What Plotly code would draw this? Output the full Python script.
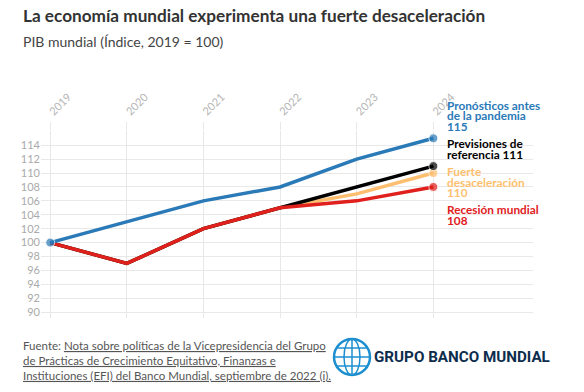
import plotly.graph_objects as go

years = [2019, 2020, 2021, 2022, 2023, 2024]
pre_pandemia = [100, 103, 106, 108, 112, 115]
referencia = [100, 97, 102, 105, 108, 111]
fuerte = [100, 97, 102, 105, 107, 110]
recesion = [100, 97, 102, 105, 106, 108]

y_ticks = [90, 92, 94, 96, 98, 100, 102, 104, 106, 108, 110, 112, 114, 116]
y_labels = [str(v) for v in y_ticks[:-1]] + [""]

BLUE = "#2a7ab8"
BLACK = "#000000"
ORANGE = "#fdbf6f"
RED = "#e0201c"
GRID = "#e8e8e8"
FONT = "Lato"

L, R, T, B = 41, 51, 131, 74
W, H = 584, 392

def px_x(p):
    return (p - L) / (W - L - R)

def px_y(p):
    return (H - B - p) / (H - T - B)

fig = go.Figure()

series = [
    (fuerte, ORANGE, "Fuerte desaceleración"),
    (referencia, BLACK, "Previsiones de referencia"),
    (recesion, RED, "Recesión mundial"),
    (pre_pandemia, BLUE, "Pronósticos antes de la pandemia"),
]
for vals, col, name in series:
    sizes = [0] * (len(years) - 1) + [9]
    if col == BLUE:
        sizes[0] = 9
    fig.add_trace(go.Scatter(
        x=years, y=vals, mode="lines+markers", name=name,
        line=dict(color=col, width=3.5),
        marker=dict(color=col, size=sizes),
        hoverinfo="x+y",
    ))

# End labels, one annotation per line (pixel y centres)
label_lines = [
    ("Pronósticos antes", BLUE, 105),
    ("de la pandemia", BLUE, 116),
    ("115", BLUE, 126.5),
    ("Previsiones de", BLACK, 143),
    ("referencia 111", BLACK, 154),
    ("Fuerte", ORANGE, 171),
    ("desaceleración", ORANGE, 182),
    ("110", ORANGE, 192.5),
    ("Recesión mundial", RED, 209),
    ("108", RED, 220),
]
for txt, col, py in label_lines:
    fig.add_annotation(x=px_x(446), y=px_y(py), xref="paper", yref="paper",
                       text="<b>" + txt + "</b>",
                       showarrow=False, xanchor="left", yanchor="middle",
                       align="left", borderpad=0,
                       font=dict(family=FONT, size=11.8, color=col))

fig.update_layout(
    width=W, height=H,
    margin=dict(l=L, r=R, t=T, b=B),
    paper_bgcolor="white", plot_bgcolor="white",
    showlegend=False,
    font=dict(family=FONT, color="#aaaaaa"),
    xaxis=dict(
        range=[2018.88, 2025.3], side="top",
        tickvals=years, ticktext=[str(y) for y in years],
        tickangle=-45, tickfont=dict(size=11, color="#b5b5b5"),
        showgrid=True, gridcolor=GRID, gridwidth=1,
        ticks="outside", ticklen=8, tickcolor=GRID,
        zeroline=False, showline=False, automargin=False,
    ),
    yaxis=dict(
        range=[89.15, 116.05],
        tickvals=y_ticks, ticktext=y_labels,
        tickfont=dict(size=11, color="#aaaaaa"),
        showgrid=True, gridcolor=GRID, gridwidth=1,
        zeroline=False, showline=False, ticks="", automargin=False,
    ),
)

fig.add_annotation(x=px_x(22), y=px_y(15), xref="paper", yref="paper",
                   text="<b>La economía mundial experimenta una fuerte desaceleración</b>",
                   showarrow=False, xanchor="left", yanchor="middle", borderpad=0,
                   font=dict(family=FONT, size=17.2, color="#333333"))
fig.add_annotation(x=px_x(22), y=px_y(41), xref="paper", yref="paper",
                   text="PIB mundial (Índice, 2019 = 100)",
                   showarrow=False, xanchor="left", yanchor="middle", borderpad=0,
                   font=dict(family=FONT, size=14, color="#444444"))

# Footer source
u = "<span style='text-decoration:underline'>{}</span>"
footer = ("Fuente: " + u.format("Nota sobre políticas de la Vicepresidencia del Grupo") + "<br>"
          + u.format("de Prácticas de Crecimiento Equitativo, Finanzas e") + "<br>"
          + u.format("Instituciones (EFI) del Banco Mundial, septiembre de 2022 (i)."))
fig.add_annotation(x=px_x(22), y=px_y(360), xref="paper", yref="paper",
                   text=footer, showarrow=False, xanchor="left", yanchor="middle",
                   align="left", borderpad=0,
                   font=dict(family=FONT, size=11.5, color="#555555"))

# Logo: globe + text
cx, cy, r = 352, 357, 18
LOGO = "#1d8fcf"
fig.add_shape(type="circle", xref="paper", yref="paper",
              x0=px_x(cx - r), x1=px_x(cx + r), y0=px_y(cy + r), y1=px_y(cy - r),
              line=dict(color=LOGO, width=2.5))
fig.add_shape(type="circle", xref="paper", yref="paper",
              x0=px_x(cx - 8), x1=px_x(cx + 8), y0=px_y(cy + r), y1=px_y(cy - r),
              line=dict(color=LOGO, width=1.5))
for dy in (-9, 0, 9):
    half = (r * r - dy * dy) ** 0.5
    fig.add_shape(type="line", xref="paper", yref="paper",
                  x0=px_x(cx - half), x1=px_x(cx + half), y0=px_y(cy + dy), y1=px_y(cy + dy),
                  line=dict(color=LOGO, width=1.5))
fig.add_shape(type="line", xref="paper", yref="paper",
              x0=px_x(cx), x1=px_x(cx), y0=px_y(cy - r), y1=px_y(cy + r),
              line=dict(color=LOGO, width=1.5))
fig.add_annotation(x=px_x(373), y=px_y(357), xref="paper", yref="paper",
                   text="<b>GRUPO BANCO MUNDIAL</b>", showarrow=False,
                   xanchor="left", yanchor="middle", borderpad=0,
                   font=dict(family="Roboto", size=15.2, color="#0d2d4d"))

fig.write_html("out.html", config={"displayModeBar": False},
               post_script="document.body.style.margin='0';document.body.style.padding='0';")
